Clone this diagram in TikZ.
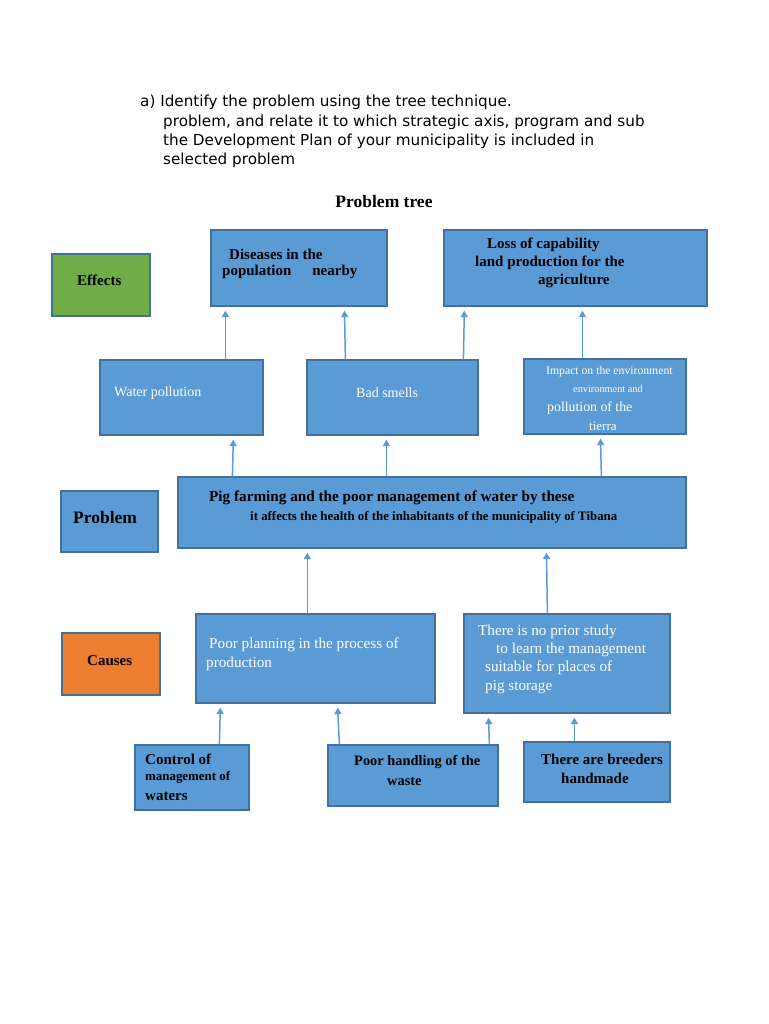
\documentclass[tikz,border=0pt]{standalone}
\usepackage{fontspec}
\setmainfont{Liberation Serif}
\newfontfamily\hdrfont{DejaVu Sans}
\usetikzlibrary{arrows.meta}
\definecolor{boxblue}{HTML}{5B9BD5}
\definecolor{edgeblue}{HTML}{41719C}
\definecolor{effgreen}{HTML}{70AD47}
\definecolor{causeorange}{HTML}{ED7D31}
\definecolor{arrblue}{HTML}{5B9BD5}
\newcommand{\myfs}[1]{\fontsize{#1}{#1}\selectfont}
\tikzset{
  box/.style={rectangle, draw=edgeblue, line width=1.2pt, fill=boxblue, inner sep=0pt},
  bt/.style={anchor=west, inner sep=0pt, text=black, font=\bfseries\myfs{15}},
  wt/.style={anchor=west, inner sep=0pt, text=white, font=\myfs{14}},
  ht/.style={anchor=west, inner sep=0pt, text=black, font=\hdrfont\myfs{15.2}},
  arr/.style={draw=arrblue, line width=1.5pt, -{Triangle[width=7pt,length=6.5pt]}, shorten >=4pt}
}
\begin{document}
\begin{tikzpicture}[x=1pt,y=-1pt]
\useasboundingbox[fill=white] (0,0) rectangle (768,1024);
% header
\node[ht] (h1) at (140,102) {a) Identify the problem using the tree technique.};
\node[ht] (h2) at (163,122) {problem, and relate it to which strategic axis, program and sub};
\node[ht] (h3) at (163,141) {the Development Plan of your municipality is included in};
\node[ht] (h4) at (163,160) {selected problem};
\node[anchor=center, inner sep=0pt, font=\bfseries\myfs{17.5}] (title) at (384,202) {Problem tree};
% boxes
\node[box, fill=effgreen, minimum width=98, minimum height=62] (eff) at (101,285) {};
\node[box, minimum width=176, minimum height=76] (dis) at (299,268) {};
\node[box, minimum width=263, minimum height=76] (loss) at (575.5,268) {};
\node[box, minimum width=163, minimum height=75] (wp) at (181.5,397.5) {};
\node[box, minimum width=171, minimum height=75] (bad) at (392.5,397.5) {};
\node[box, minimum width=162, minimum height=75] (imp) at (605,396.5) {};
\node[box, minimum width=97, minimum height=61] (prob) at (109.5,521.5) {};
\node[box, minimum width=508, minimum height=71] (pig) at (432,512.5) {};
\node[box, fill=causeorange, minimum width=98, minimum height=62] (cau) at (111,664) {};
\node[box, minimum width=239, minimum height=89] (plan) at (315.5,658.5) {};
\node[box, minimum width=206, minimum height=99] (study) at (567,663.5) {};
\node[box, minimum width=114, minimum height=65] (ctrl) at (192,777.5) {};
\node[box, minimum width=170, minimum height=61] (hand) at (413,775.5) {};
\node[box, minimum width=146, minimum height=60] (breed) at (597,772) {};
% texts
\node[bt] (teff) at (77,280) {Effects};
\node[bt] (tdis1) at (229,254) {Diseases in the};
\node[bt] (tdis2) at (222,272) {population\hspace{21pt}nearby};
\node[bt] (tloss1) at (487,245) {Loss of capability};
\node[bt] (tloss2) at (475,263) {land production for the};
\node[bt] (tloss3) at (538,281) {agriculture};
\node[wt] (twp) at (114,393) {Water pollution};
\node[wt] (tbad) at (356,393) {Bad smells};
\node[wt, font=\myfs{11.7}] (timp1) at (546,372) {Impact on the environment};
\node[wt, font=\myfs{10.3}] (timp2) at (573,389) {environment and};
\node[wt, font=\myfs{13.8}] (timp3) at (547,408) {pollution of the};
\node[wt, font=\myfs{13}] (timp4) at (589,426) {tierra};
\node[bt, font=\bfseries\myfs{17.5}] (tprob) at (73,518) {Problem};
\node[bt, font=\bfseries\myfs{15.2}] (tpig1) at (209,498) {Pig farming and the poor management of water by these};
\node[bt, font=\bfseries\myfs{12.85}] (tpig2) at (250,517) {it affects the health of the inhabitants of the municipality of Tibana};
\node[bt] (tcau) at (87,661) {Causes};
\node[wt, font=\myfs{15.2}] (tplan1) at (209,645) {Poor planning in the process of};
\node[wt, font=\myfs{15.2}] (tplan2) at (206,664) {production};
\node[wt, font=\myfs{15.2}] (tst1) at (478,632) {There is no prior study};
\node[wt, font=\myfs{15.2}] (tst2) at (496,650) {to learn the management};
\node[wt, font=\myfs{15.2}] (tst3) at (485,668) {suitable for places of};
\node[wt, font=\myfs{15.2}] (tst4) at (485,687) {pig storage};
\node[bt] (tctl1) at (145,759) {Control of};
\node[bt, font=\bfseries\myfs{12.9}] (tctl2) at (145,777) {management of};
\node[bt] (tctl3) at (145,796) {waters};
\node[bt, font=\bfseries\myfs{14.4}] (thd1) at (354,762) {Poor handling of the};
\node[bt, font=\bfseries\myfs{14.4}] (thd2) at (387,782) {waste};
\node[bt] (tbr1) at (541,759) {There are breeders};
\node[bt] (tbr2) at (561,778) {handmade};
% arrows
\draw[arr] ([xshift=126pt]wp.north west) -- ([xshift=15pt]dis.south west);
\draw[arr] ([xshift=39pt]bad.north west) -- ([xshift=134pt]dis.south west);
\draw[arr] ([xshift=157pt]bad.north west) -- ([xshift=21pt]loss.south west);
\draw[arr] ([xshift=59pt]imp.north west) -- ([xshift=139pt]loss.south west);
\draw[arr] ([xshift=55pt]pig.north west) -- ([xshift=134pt]wp.south west);
\draw[arr] ([xshift=209pt]pig.north west) -- ([xshift=80pt]bad.south west);
\draw[arr] ([xshift=424pt]pig.north west) -- ([xshift=77pt]imp.south west);
\draw[arr] ([xshift=112pt]plan.north west) -- ([xshift=130pt]pig.south west);
\draw[arr] ([xshift=84pt]study.north west) -- ([xshift=369pt]pig.south west);
\draw[arr] ([xshift=85pt]ctrl.north west) -- ([xshift=25pt]plan.south west);
\draw[arr] ([xshift=12pt]hand.north west) -- ([xshift=142pt]plan.south west);
\draw[arr] ([xshift=162pt]hand.north west) -- ([xshift=25pt]study.south west);
\draw[arr] ([xshift=51pt]breed.north west) -- ([xshift=111pt]study.south west);
\end{tikzpicture}
\end{document}
